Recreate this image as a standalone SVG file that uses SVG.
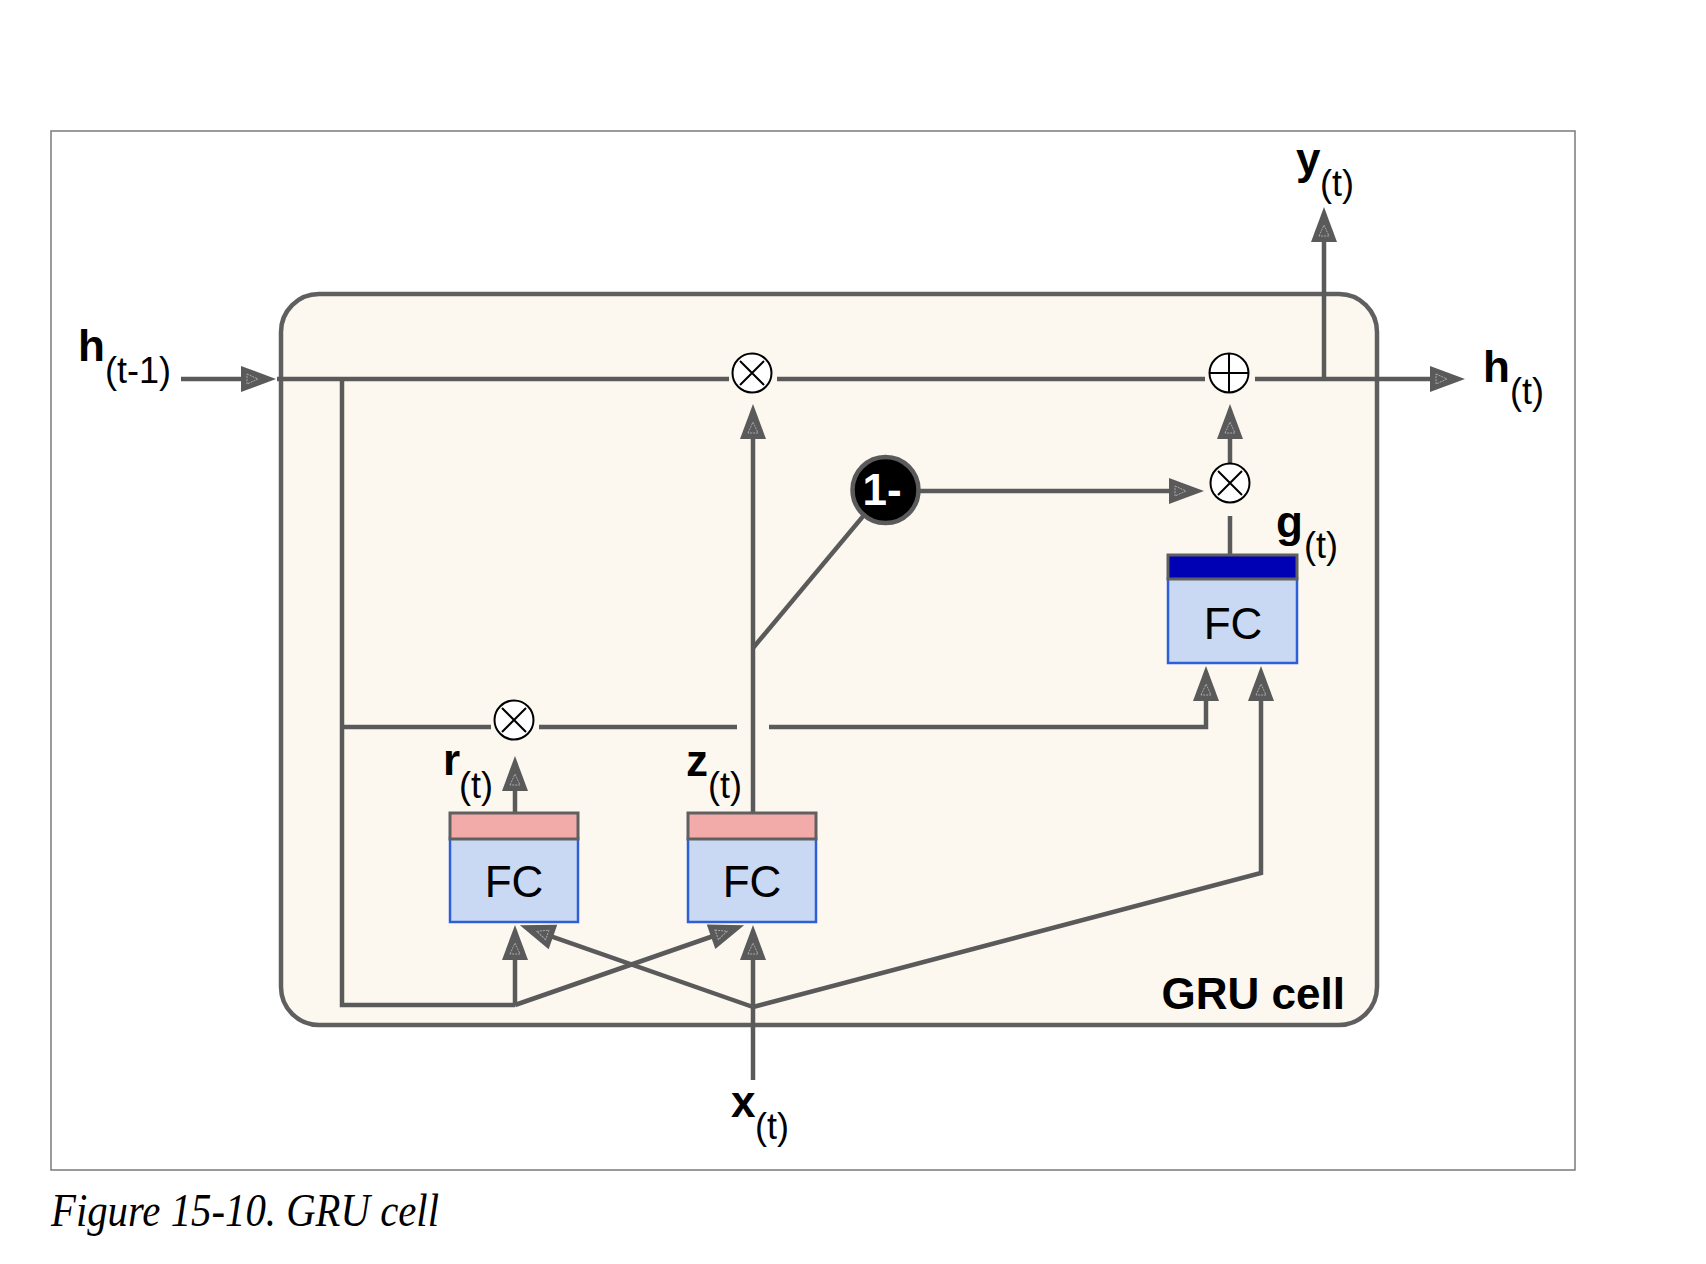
<svg xmlns="http://www.w3.org/2000/svg" width="1706" height="1264" viewBox="0 0 1706 1264">
  <style>
    .wire { fill: none; stroke: #5a5a5a; stroke-width: 4.5; stroke-linejoin: miter; }
    .arrow { marker-end: url(#head); }
    .op { fill: #ffffff; stroke: #000000; stroke-width: 2; }
    .opmark { stroke: #000000; stroke-width: 2; fill: none; }
    .lbl { font-family: "Liberation Sans", Arial, sans-serif; fill: #000000; }
    .var { font-weight: bold; font-size: 44px; }
    .sub { font-size: 36px; }
    .fc { font-family: "Liberation Sans", Arial, sans-serif; font-size: 44px; fill: #000000; text-anchor: middle; }
    .fcbody { fill: #c9d9f3; stroke: #2e5fd6; stroke-width: 2.5; }
    .gate { fill: #f2aba9; stroke: #606060; stroke-width: 3; }
    .tanh { fill: #0000b4; stroke: #606060; stroke-width: 3; }
  </style>
  <defs>
    <marker id="head" markerUnits="userSpaceOnUse" markerWidth="40" markerHeight="30" viewBox="0 -15 40 30" refX="1" refY="0" orient="auto" overflow="visible">
      <path d="M0,-13 L35,0 L0,13 Z" fill="#5a5a5a"/>
      <path d="M6,-5 L17,0 L6,5 Z" fill="none" stroke="#a9a9a9" stroke-width="1" stroke-dasharray="2 1"/>
    </marker>
  </defs>

  <!-- figure frame -->
  <rect x="51" y="131" width="1524" height="1039" fill="#ffffff" stroke="#7a7a7a" stroke-width="1.5"/>

  <!-- cell body -->
  <g id="gru-cell">
    <rect x="281" y="294" width="1096" height="731" rx="38" ry="38" fill="#fcf8f0" stroke="#5f5f5f" stroke-width="4.5"/>
    <text class="lbl" x="1345" y="1009" font-size="44" font-weight="bold" text-anchor="end">GRU cell</text>
  </g>

  <!-- connectors -->
  <g id="connectors">
    <!-- state path h(t-1) -> h(t) -->
    <path class="wire arrow" d="M181,379 H242"/>
    <path class="wire" d="M277,379 H729"/>
    <path class="wire" d="M777,379 H1205"/>
    <path class="wire arrow" d="M1255,379 H1431"/>
    <!-- output y(t) -->
    <path class="wire arrow" d="M1324,379 V241"/>
    <!-- h(t-1) branch down and along the bottom -->
    <path class="wire" d="M342,379 V1005 H515"/>
    <!-- r-gated state toward g FC -->
    <path class="wire" d="M342,727 H491"/>
    <path class="wire" d="M539,727 H737"/>
    <path class="wire arrow" d="M769,727 H1206 V700"/>
    <!-- r gate output -->
    <path class="wire arrow" d="M515,813 V790"/>
    <!-- z gate output -->
    <path class="wire arrow" d="M753,813 V438"/>
    <path class="wire" d="M753,648 L885,490"/>
    <!-- 1- to multiply -->
    <path class="wire arrow" d="M918,491 H1170"/>
    <!-- g path -->
    <path class="wire" d="M1230,516 V555"/>
    <path class="wire arrow" d="M1230,464 V438"/>
    <!-- inputs into FC layers -->
    <path class="wire arrow" d="M515,1005 V959"/>
    <path class="wire arrow" d="M515,1005 L712,936.5"/>
    <path class="wire arrow" d="M753,1080 V959"/>
    <path class="wire arrow" d="M753,1007 L552,936.6"/>
    <path class="wire arrow" d="M753,1007 L1261,873 V700"/>
  </g>

  <!-- FC layers -->
  <g id="fc-r">
    <rect class="fcbody" x="450" y="838" width="128" height="84"/>
    <rect class="gate" x="450" y="813" width="128" height="26"/>
    <text class="fc" x="514" y="897">FC</text>
  </g>
  <g id="fc-z">
    <rect class="fcbody" x="688" y="838" width="128" height="84"/>
    <rect class="gate" x="688" y="813" width="128" height="26"/>
    <text class="fc" x="752" y="897">FC</text>
  </g>
  <g id="fc-g">
    <rect class="fcbody" x="1168" y="578" width="129" height="85"/>
    <rect class="tanh" x="1168" y="555" width="129" height="24"/>
    <text class="fc" x="1233" y="639">FC</text>
  </g>

  <!-- element-wise operators -->
  <g id="mul-z">
    <circle class="op" cx="752" cy="373" r="19.5"/>
    <path class="opmark" d="M740,361 L764,385 M764,361 L740,385"/>
  </g>
  <g id="mul-r">
    <circle class="op" cx="514" cy="720" r="19.5"/>
    <path class="opmark" d="M502,708 L526,732 M526,708 L502,732"/>
  </g>
  <g id="mul-g">
    <circle class="op" cx="1230" cy="483" r="19.5"/>
    <path class="opmark" d="M1218,471 L1242,495 M1242,471 L1218,495"/>
  </g>
  <g id="add-h">
    <circle class="op" cx="1229" cy="373" r="19.5"/>
    <path class="opmark" d="M1229,353.5 V392.5 M1209.5,373 H1248.5"/>
  </g>
  <g id="one-minus">
    <circle cx="885.5" cy="490" r="33" fill="#000000" stroke="#5a5a5a" stroke-width="4.5"/>
    <text x="882" y="505" font-family="Liberation Sans, Arial, sans-serif" font-size="44" font-weight="bold" fill="#ffffff" text-anchor="middle">1-</text>
  </g>

  <!-- variable labels -->
  <g id="label-h-prev">
    <text class="lbl"><tspan class="var" x="78" y="361">h</tspan><tspan class="sub" x="105" y="383">(t-1)</tspan></text>
  </g>
  <g id="label-h">
    <text class="lbl"><tspan class="var" x="1483" y="382">h</tspan><tspan class="sub" x="1510" y="404">(t)</tspan></text>
  </g>
  <g id="label-y">
    <text class="lbl"><tspan class="var" x="1296" y="174">y</tspan><tspan class="sub" x="1320" y="196">(t)</tspan></text>
  </g>
  <g id="label-r">
    <text class="lbl"><tspan class="var" x="443" y="775">r</tspan><tspan class="sub" x="459" y="798">(t)</tspan></text>
  </g>
  <g id="label-z">
    <text class="lbl"><tspan class="var" x="686" y="776">z</tspan><tspan class="sub" x="708" y="798">(t)</tspan></text>
  </g>
  <g id="label-g">
    <text class="lbl"><tspan class="var" x="1276" y="537">g</tspan><tspan class="sub" x="1304" y="558">(t)</tspan></text>
  </g>
  <g id="label-x">
    <text class="lbl"><tspan class="var" x="731" y="1117">x</tspan><tspan class="sub" x="755" y="1139">(t)</tspan></text>
  </g>

  <!-- caption -->
  <text x="51" y="1226" font-family="Liberation Serif, Times New Roman, serif" font-style="italic" font-size="47" textLength="388" lengthAdjust="spacingAndGlyphs" fill="#000000">Figure 15-10. GRU cell</text>
</svg>
